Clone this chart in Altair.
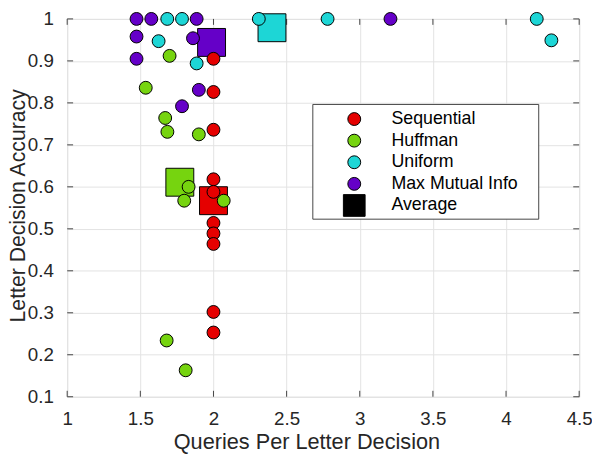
import altair as alt
import pandas as pd

FONT = "Liberation Sans"
TXT = "#262626"
FRAME = "#444444"

methods = ["Sequential", "Huffman", "Uniform", "Max Mutual Info"]
colors = ["#e50000", "#76d40f", "#1dd6d6", "#6500c8"]

seq_x = [2.0, 2.0, 2.0, 2.0, 2.0, 2.0, 2.0, 2.0, 2.0, 2.0]
seq_y = [0.905, 0.826, 0.736, 0.618, 0.588, 0.514, 0.489, 0.464, 0.302, 0.253]

huf_x = [1.70, 1.537, 1.67, 1.685, 1.90, 1.83, 1.80, 2.07, 1.68, 1.81]
huf_y = [0.912, 0.836, 0.764, 0.731, 0.725, 0.600, 0.567, 0.567, 0.234, 0.163]

uni_x = [1.684, 1.785, 2.31, 2.78, 4.21, 4.31, 1.625, 1.885]
uni_y = [1.0, 1.0, 1.0, 1.0, 1.0, 0.949, 0.947, 0.894]

mmi_x = [1.474, 1.575, 1.885, 3.21, 1.474, 1.86, 1.474, 1.90, 1.785]
mmi_y = [1.0, 1.0, 1.0, 1.0, 0.958, 0.954, 0.905, 0.831, 0.792]

avg_x = [2.0, 1.77, 2.40, 1.987]
avg_y = [0.567, 0.611, 0.979, 0.944]

x_ticks = [1, 1.5, 2, 2.5, 3, 3.5, 4, 4.5]
y_ticks = [0.1, 0.2, 0.3, 0.4, 0.5, 0.6, 0.7, 0.8, 0.9, 1.0]

legend_labels = ["Sequential", "Huffman", "Uniform", "Max Mutual Info", "Average"]
legend_colors = colors + ["#000000"]
legend_shapes = ["circle", "circle", "circle", "circle", "square"]
legend_sizes = [170, 170, 170, 170, 484]

# ---- tables ----
draw_order = [("Uniform", uni_x, uni_y), ("Max Mutual Info", mmi_x, mmi_y),
              ("Sequential", seq_x, seq_y), ("Huffman", huf_x, huf_y)]
rows = []
for name, xs, ys in draw_order:
    for a, b in zip(xs, ys):
        rows.append({"method": name, "x": a, "y": b})
pts = pd.DataFrame(rows)
avg = pd.DataFrame({"method": methods, "x": avg_x, "y": avg_y})
xt = pd.DataFrame({"x": x_ticks})
yt = pd.DataFrame({"y": y_ticks})

W, H = 519, 383
LEG_ROW0, LEG_STEP = 101.5, 21.9
leg = pd.DataFrame({
    "label": legend_labels,
    "color": legend_colors,
    "shape": legend_shapes,
    "sz": legend_sizes,
    "py": [LEG_ROW0 + LEG_STEP * i for i in range(len(legend_labels))],
})

xscale = alt.Scale(domain=[1, 4.5], nice=False, zero=False)
yscale = alt.Scale(domain=[0.1, 1.0], nice=False, zero=False)

xaxis = alt.Axis(values=x_ticks, format="~g", title="Queries Per Letter Decision",
                 grid=True, gridColor="#e3e3e3", gridWidth=1, ticks=False, domain=False,
                 labelFont=FONT, labelFontSize=19, labelColor=TXT, labelPadding=13,
                 labelFlush=False, labelOverlap=False,
                 titleFont=FONT, titleFontSize=22, titleFontWeight="normal", titleColor=TXT,
                 titleX=242.5, titleY=52.5, titleBaseline="alphabetic", titleAlign="center")
yaxis = alt.Axis(values=y_ticks, format="~g", title="Letter Decision Accuracy",
                 grid=True, gridColor="#e3e3e3", gridWidth=1, ticks=False, domain=False,
                 labelFont=FONT, labelFontSize=19, labelColor=TXT, labelPadding=14,
                 labelFlush=False, labelOverlap=False,
                 titleFont=FONT, titleFontSize=21.5, titleFontWeight="normal", titleColor=TXT,
                 titleAngle=270, titleX=-43.5, titleY=189, titleBaseline="alphabetic",
                 titleAlign="center")


def X(f):
    return alt.X(f"{f}:Q", scale=xscale, axis=xaxis)


def Y(f):
    return alt.Y(f"{f}:Q", scale=yscale, axis=yaxis)


cscale = alt.Scale(domain=methods, range=colors)

squares = alt.Chart(avg).mark_square(size=800, stroke="black", strokeWidth=1, opacity=1).encode(
    x=X("x"), y=Y("y"), color=alt.Color("method:N", scale=cscale, legend=None))
circles = alt.Chart(pts).mark_circle(size=170, stroke="black", strokeWidth=1, opacity=1).encode(
    x=X("x"), y=Y("y"), color=alt.Color("method:N", scale=cscale, legend=None))

tick_b = alt.Chart(xt).mark_rule(color=FRAME, strokeWidth=1).encode(
    x=X("x"), y=alt.value(H), y2=alt.value(H - 6))
tick_t = alt.Chart(xt).mark_rule(color=FRAME, strokeWidth=1).encode(
    x=X("x"), y=alt.value(0), y2=alt.value(6))
tick_l = alt.Chart(yt).mark_rule(color=FRAME, strokeWidth=1).encode(
    y=Y("y"), x=alt.value(0), x2=alt.value(6))
tick_r = alt.Chart(yt).mark_rule(color=FRAME, strokeWidth=1).encode(
    y=Y("y"), x=alt.value(W), x2=alt.value(W - 6))

main = alt.layer(tick_b, tick_t, tick_l, tick_r, squares, circles)

box = alt.Chart(pd.DataFrame({"a": [0]})).mark_rect(fill="white", stroke=FRAME, strokeWidth=1).encode(
    x=alt.value(249), x2=alt.value(478), y=alt.value(86.7), y2=alt.value(203))
leg_sym = alt.Chart(leg).mark_point(filled=True, stroke="black", strokeWidth=1, opacity=1).encode(
    x=alt.value(291),
    y=alt.Y("py:Q", scale=None, axis=None),
    shape=alt.Shape("shape:N", scale=None),
    size=alt.Size("sz:Q", scale=None),
    color=alt.Color("color:N", scale=None),
)
leg_txt = alt.Chart(leg).mark_text(align="left", baseline="middle", font=FONT, fontSize=18,
                                   color="#000000").encode(
    x=alt.value(328.7),
    y=alt.Y("py:Q", scale=None, axis=None),
    text="label:N",
)
legend = alt.layer(box, leg_sym, leg_txt)

chart = alt.layer(main, legend).resolve_scale(
    x="independent", y="independent", color="independent", shape="independent", size="independent"
).properties(
    width=W, height=H,
    padding={"left": 60, "top": 8, "right": 13, "bottom": 57},
    autosize=alt.AutoSizeParams(type="none"),
).configure_view(stroke=FRAME, strokeWidth=1).configure(background="white")

chart.save("out.html", embed_options={"renderer": "svg", "actions": False})
